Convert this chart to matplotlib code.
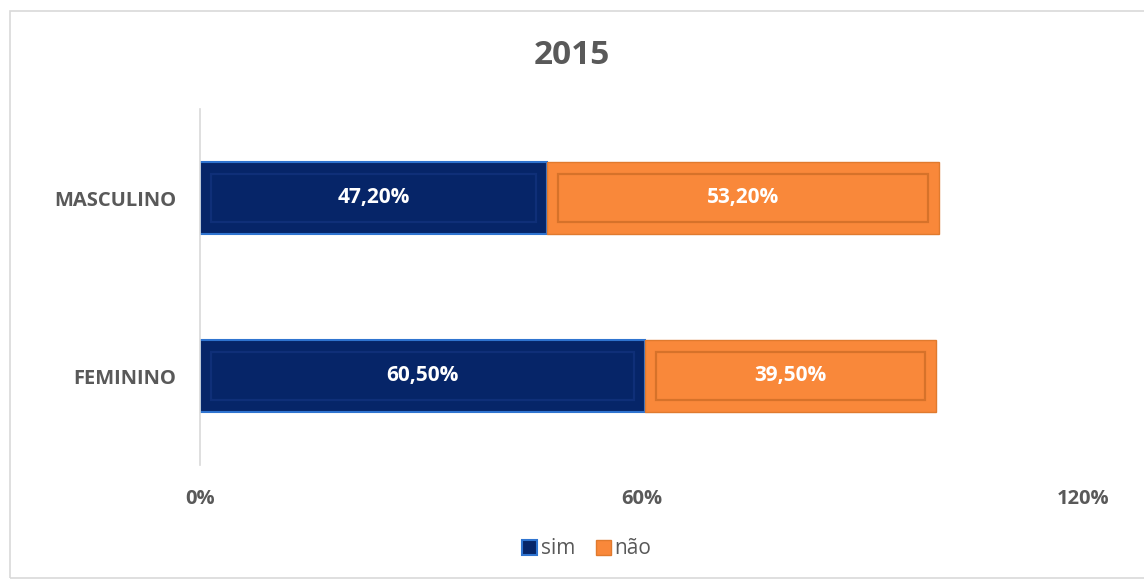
import matplotlib.pyplot as plt
from matplotlib.patches import Rectangle

plt.rcParams['font.family'] = ['Open Sans', 'DejaVu Sans']

categories = ['FEMININO', 'MASCULINO']
sim = [60.5, 47.2]
nao = [39.5, 53.2]
sim_labels = ['60,50%', '47,20%']
nao_labels = ['39,50%', '53,20%']
ticks = [0, 60, 120]
tick_labels = ['0%', '60%', '120%']

navy = '#062568'
orange = '#F9883A'
gray = '#595959'

fig = plt.figure(figsize=(11.44, 5.81), dpi=100)
ax = fig.add_axes([200 / 1144, 1 - 465 / 581, 883 / 1144, 356 / 581])

# outer chart frame
fig.patches.append(Rectangle((10 / 1144, 3 / 581), 1.0, 1 - 14 / 581,
                             transform=fig.transFigure, fill=False,
                             edgecolor='#d9d9d9', linewidth=1.2))

y = list(range(len(categories)))
h = 0.41
ax.barh(y, sim, height=h, color=navy, edgecolor='#2f74d0', linewidth=1.5, zorder=2)
ax.barh(y, nao, left=sim, height=h, color=orange, edgecolor='#e07a2e', linewidth=1.0, zorder=2)

# bevel: inner rectangles
inset = 1.5
ax.barh(y, [v - 2 * inset for v in sim], left=inset, height=h * 0.66, fill=False,
        edgecolor='#0f2f78', linewidth=1.6, zorder=3)
ax.barh(y, [v - 2 * inset for v in nao], left=[s + inset for s in sim], height=h * 0.66,
        fill=False, edgecolor='#d6722a', linewidth=1.6, zorder=3)

for i in y:
    ax.text(sim[i] / 2, i, sim_labels[i], ha='center', va='center', color='white',
            fontsize=15, fontweight='bold', zorder=4)
    ax.text(sim[i] + nao[i] / 2, i, nao_labels[i], ha='center', va='center', color='white',
            fontsize=15, fontweight='bold', zorder=4)

ax.set_xlim(0, 120)
ax.set_ylim(-0.5, 1.5)
ax.set_xticks(ticks)
ax.set_xticklabels(tick_labels, fontsize=14.5, fontweight='bold', color=gray)
ax.set_yticks(y)
ax.set_yticklabels(categories, fontsize=14.5, fontweight='bold', color=gray)
ax.tick_params(length=0, pad=17, axis='y')
ax.tick_params(length=0, pad=17, axis='x')
for s in ['top', 'right', 'bottom']:
    ax.spines[s].set_visible(False)
ax.spines['left'].set_color('#d9d9d9')
ax.spines['left'].set_linewidth(1.2)

fig.text(0.5, 1 - 55 / 581, '2015', ha='center', va='center', fontsize=24,
         fontweight='bold', color=gray)

handles = [Rectangle((0, 0), 1, 1, facecolor=navy, edgecolor='#2f74d0', linewidth=1.5),
           Rectangle((0, 0), 1, 1, facecolor=orange, edgecolor='#e07a2e', linewidth=1.0)]
fig.legend(handles, ['sim', 'não'], loc='center', bbox_to_anchor=(0.513, 1 - 549 / 581),
           ncol=2, frameon=False, fontsize=15, labelcolor=gray, handlelength=0.7,
           handleheight=0.7, handletextpad=0.2, columnspacing=1.0)

fig.savefig('out.png', dpi=100)
